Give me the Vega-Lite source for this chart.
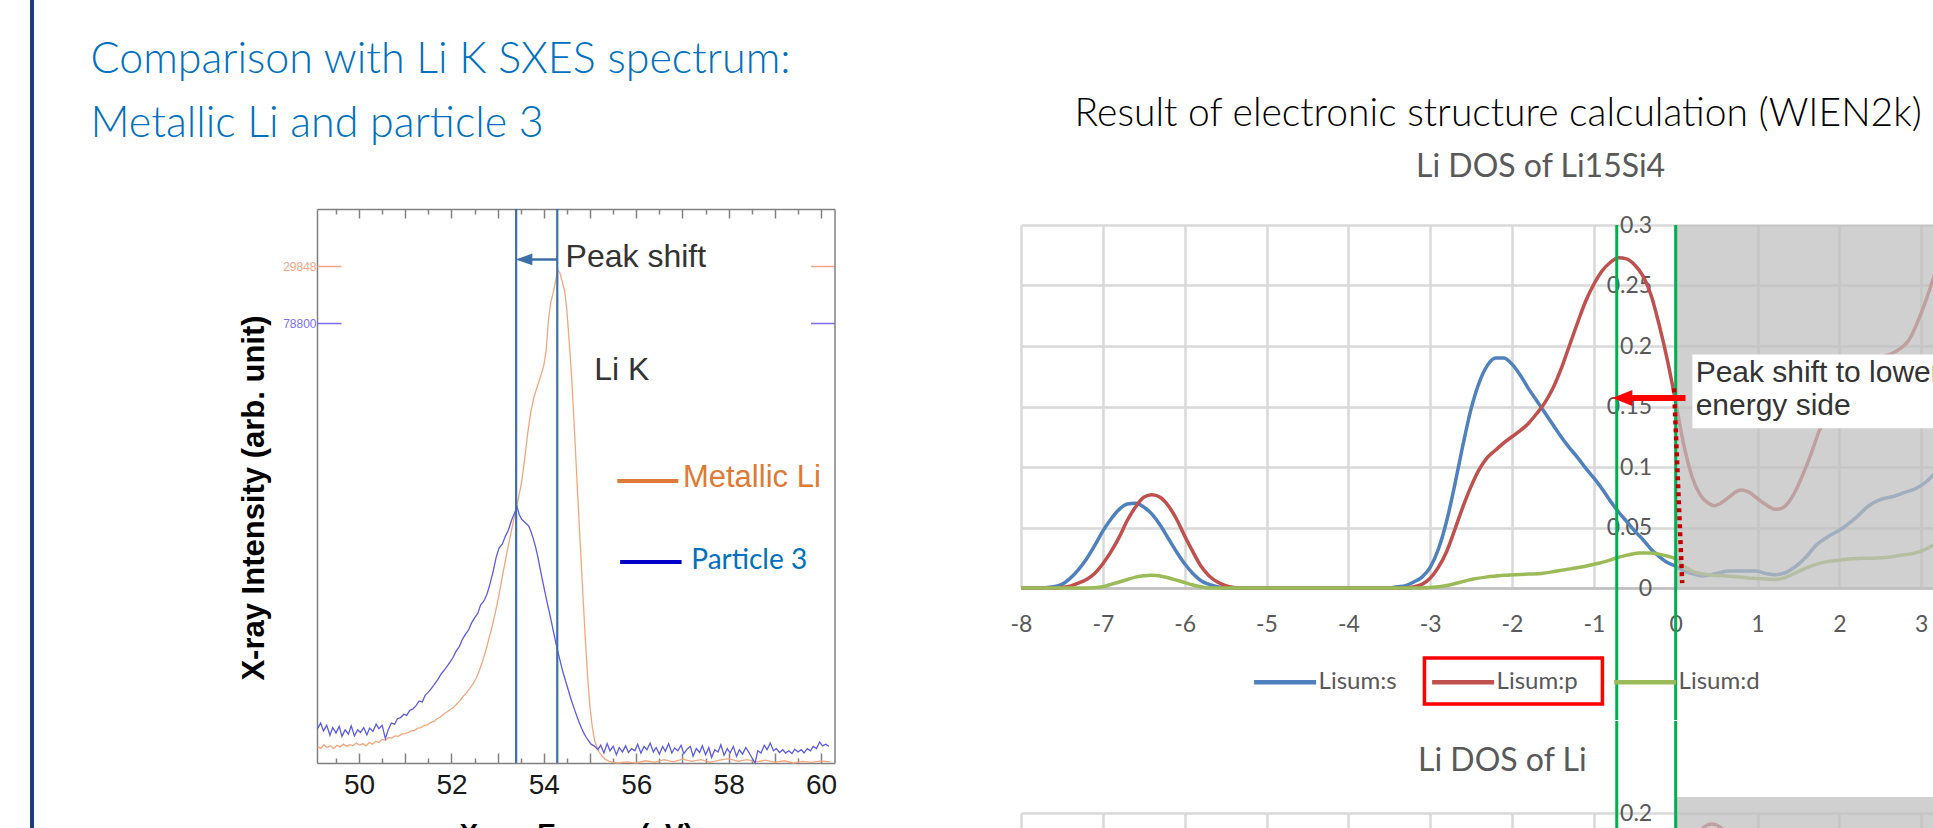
{
"$schema": "https://vega.github.io/schema/vega-lite/v6.json",
"usermeta": {"embedOptions": {"actions": false}},
"autosize": "none",
"padding": {"left": 30, "top": 0, "right": 1903, "bottom": 828},
"background": "white",
"config": {"view": {"stroke": null}},
"spacing": 55,
"resolve": {"scale": {"color": "independent"}, "legend": {"color": "independent"}},
"datasets": {
"metallic": [
{"E":49.10,"I":0.030},{"E":49.17,"I":0.026},{"E":49.24,"I":0.033},{"E":49.31,"I":0.028},{"E":49.38,"I":0.031},{"E":49.45,"I":0.026},{"E":49.52,"I":0.032},{"E":49.59,"I":0.029},{"E":49.66,"I":0.034},{"E":49.73,"I":0.030},{"E":49.80,"I":0.033},{"E":49.87,"I":0.031},{"E":49.94,"I":0.036},{"E":50.01,"I":0.032},{"E":50.08,"I":0.035},{"E":50.15,"I":0.031},{"E":50.22,"I":0.037},{"E":50.29,"I":0.034},{"E":50.36,"I":0.039},{"E":50.43,"I":0.037},{"E":50.50,"I":0.043},{"E":50.57,"I":0.041},{"E":50.64,"I":0.046},{"E":50.71,"I":0.045},{"E":50.78,"I":0.049},{"E":50.85,"I":0.048},{"E":50.92,"I":0.052},{"E":50.99,"I":0.053},{"E":51.06,"I":0.055},{"E":51.13,"I":0.058},{"E":51.20,"I":0.059},{"E":51.27,"I":0.063},{"E":51.34,"I":0.064},{"E":51.41,"I":0.068},{"E":51.48,"I":0.069},{"E":51.55,"I":0.073},{"E":51.62,"I":0.075},{"E":51.69,"I":0.080},{"E":51.76,"I":0.083},{"E":51.83,"I":0.088},{"E":51.90,"I":0.092},{"E":51.97,"I":0.096},{"E":52.04,"I":0.100},{"E":52.11,"I":0.106},{"E":52.18,"I":0.112},{"E":52.25,"I":0.120},{"E":52.32,"I":0.126},{"E":52.39,"I":0.134},{"E":52.46,"I":0.142},{"E":52.53,"I":0.152},{"E":52.60,"I":0.166},{"E":52.67,"I":0.183},{"E":52.74,"I":0.202},{"E":52.81,"I":0.224},{"E":52.88,"I":0.246},{"E":52.95,"I":0.272},{"E":53.02,"I":0.300},{"E":53.09,"I":0.332},{"E":53.16,"I":0.362},{"E":53.23,"I":0.392},{"E":53.30,"I":0.420},{"E":53.37,"I":0.448},{"E":53.44,"I":0.474},{"E":53.51,"I":0.503},{"E":53.58,"I":0.545},{"E":53.65,"I":0.595},{"E":53.72,"I":0.635},{"E":53.79,"I":0.662},{"E":53.86,"I":0.680},{"E":53.93,"I":0.698},{"E":54.00,"I":0.718},{"E":54.05,"I":0.745},{"E":54.10,"I":0.800},{"E":54.15,"I":0.832},{"E":54.20,"I":0.848},{"E":54.25,"I":0.868},{"E":54.30,"I":0.890},{"E":54.35,"I":0.884},{"E":54.40,"I":0.868},{"E":54.45,"I":0.852},{"E":54.50,"I":0.815},{"E":54.55,"I":0.758},{"E":54.60,"I":0.698},{"E":54.65,"I":0.620},{"E":54.70,"I":0.538},{"E":54.75,"I":0.455},{"E":54.80,"I":0.375},{"E":54.85,"I":0.296},{"E":54.90,"I":0.220},{"E":54.95,"I":0.152},{"E":55.00,"I":0.100},{"E":55.05,"I":0.064},{"E":55.10,"I":0.040},{"E":55.18,"I":0.022},{"E":55.26,"I":0.012},{"E":55.34,"I":0.006},{"E":55.42,"I":0.003},{"E":55.50,"I":0.001},{"E":55.60,"I":0.000},{"E":55.80,"I":0.002},{"E":56.00,"I":0.000},{"E":56.20,"I":0.004},{"E":56.40,"I":0.001},{"E":56.60,"I":0.006},{"E":56.80,"I":0.002},{"E":57.00,"I":0.007},{"E":57.20,"I":0.003},{"E":57.40,"I":0.006},{"E":57.60,"I":0.001},{"E":57.80,"I":0.005},{"E":58.00,"I":0.008},{"E":58.20,"I":0.003},{"E":58.40,"I":0.006},{"E":58.60,"I":0.002},{"E":58.80,"I":0.005},{"E":59.00,"I":0.001},{"E":59.20,"I":0.004},{"E":59.40,"I":0.000},{"E":59.60,"I":0.003},{"E":59.80,"I":0.001},{"E":60.00,"I":0.004},{"E":60.20,"I":0.002}
],
"particle": [
{"E":49.10,"I":0.062},{"E":49.17,"I":0.072},{"E":49.23,"I":0.058},{"E":49.30,"I":0.068},{"E":49.37,"I":0.050},{"E":49.43,"I":0.064},{"E":49.50,"I":0.054},{"E":49.57,"I":0.066},{"E":49.63,"I":0.048},{"E":49.70,"I":0.060},{"E":49.77,"I":0.052},{"E":49.83,"I":0.067},{"E":49.90,"I":0.049},{"E":49.97,"I":0.060},{"E":50.03,"I":0.055},{"E":50.10,"I":0.064},{"E":50.17,"I":0.051},{"E":50.23,"I":0.063},{"E":50.30,"I":0.057},{"E":50.37,"I":0.070},{"E":50.43,"I":0.062},{"E":50.50,"I":0.068},{"E":50.57,"I":0.044},{"E":50.63,"I":0.060},{"E":50.70,"I":0.072},{"E":50.77,"I":0.070},{"E":50.83,"I":0.080},{"E":50.90,"I":0.082},{"E":50.97,"I":0.088},{"E":51.03,"I":0.086},{"E":51.10,"I":0.095},{"E":51.17,"I":0.098},{"E":51.23,"I":0.103},{"E":51.30,"I":0.112},{"E":51.37,"I":0.110},{"E":51.43,"I":0.122},{"E":51.50,"I":0.128},{"E":51.57,"I":0.135},{"E":51.63,"I":0.142},{"E":51.70,"I":0.150},{"E":51.77,"I":0.160},{"E":51.83,"I":0.166},{"E":51.90,"I":0.174},{"E":51.97,"I":0.182},{"E":52.03,"I":0.190},{"E":52.10,"I":0.202},{"E":52.17,"I":0.210},{"E":52.23,"I":0.222},{"E":52.30,"I":0.232},{"E":52.37,"I":0.240},{"E":52.43,"I":0.252},{"E":52.50,"I":0.262},{"E":52.57,"I":0.270},{"E":52.63,"I":0.285},{"E":52.70,"I":0.292},{"E":52.77,"I":0.305},{"E":52.83,"I":0.322},{"E":52.90,"I":0.345},{"E":52.97,"I":0.372},{"E":53.03,"I":0.388},{"E":53.10,"I":0.395},{"E":53.17,"I":0.410},{"E":53.23,"I":0.420},{"E":53.30,"I":0.438},{"E":53.37,"I":0.452},{"E":53.42,"I":0.462},{"E":53.47,"I":0.448},{"E":53.52,"I":0.440},{"E":53.57,"I":0.436},{"E":53.62,"I":0.432},{"E":53.67,"I":0.428},{"E":53.72,"I":0.418},{"E":53.77,"I":0.405},{"E":53.82,"I":0.390},{"E":53.87,"I":0.372},{"E":53.92,"I":0.350},{"E":53.97,"I":0.330},{"E":54.02,"I":0.310},{"E":54.07,"I":0.290},{"E":54.12,"I":0.272},{"E":54.17,"I":0.252},{"E":54.22,"I":0.232},{"E":54.27,"I":0.213},{"E":54.32,"I":0.195},{"E":54.37,"I":0.178},{"E":54.42,"I":0.162},{"E":54.47,"I":0.148},{"E":54.52,"I":0.134},{"E":54.57,"I":0.120},{"E":54.62,"I":0.107},{"E":54.67,"I":0.095},{"E":54.72,"I":0.083},{"E":54.77,"I":0.072},{"E":54.82,"I":0.062},{"E":54.87,"I":0.053},{"E":54.92,"I":0.046},{"E":54.97,"I":0.040},{"E":55.02,"I":0.034},{"E":55.10,"I":0.030},{"E":55.17,"I":0.024},{"E":55.23,"I":0.032},{"E":55.30,"I":0.018},{"E":55.37,"I":0.035},{"E":55.43,"I":0.022},{"E":55.50,"I":0.030},{"E":55.57,"I":0.015},{"E":55.63,"I":0.028},{"E":55.70,"I":0.020},{"E":55.77,"I":0.031},{"E":55.83,"I":0.019},{"E":55.90,"I":0.026},{"E":55.97,"I":0.022},{"E":56.03,"I":0.034},{"E":56.10,"I":0.018},{"E":56.17,"I":0.030},{"E":56.23,"I":0.024},{"E":56.30,"I":0.036},{"E":56.37,"I":0.020},{"E":56.43,"I":0.028},{"E":56.50,"I":0.016},{"E":56.57,"I":0.030},{"E":56.63,"I":0.021},{"E":56.70,"I":0.035},{"E":56.77,"I":0.018},{"E":56.83,"I":0.027},{"E":56.90,"I":0.022},{"E":56.97,"I":0.032},{"E":57.03,"I":0.017},{"E":57.10,"I":0.025},{"E":57.17,"I":0.030},{"E":57.23,"I":0.012},{"E":57.30,"I":0.026},{"E":57.37,"I":0.019},{"E":57.43,"I":0.031},{"E":57.50,"I":0.015},{"E":57.57,"I":0.028},{"E":57.63,"I":0.010},{"E":57.70,"I":0.024},{"E":57.77,"I":0.020},{"E":57.83,"I":0.033},{"E":57.90,"I":0.014},{"E":57.97,"I":0.026},{"E":58.03,"I":0.018},{"E":58.10,"I":0.030},{"E":58.17,"I":0.012},{"E":58.23,"I":0.024},{"E":58.30,"I":0.016},{"E":58.37,"I":0.028},{"E":58.43,"I":0.020},{"E":58.50,"I":0.010},{"E":58.57,"I":0.000},{"E":58.63,"I":0.022},{"E":58.70,"I":0.018},{"E":58.77,"I":0.032},{"E":58.83,"I":0.024},{"E":58.90,"I":0.036},{"E":58.97,"I":0.022},{"E":59.03,"I":0.026},{"E":59.10,"I":0.019},{"E":59.17,"I":0.024},{"E":59.23,"I":0.018},{"E":59.30,"I":0.022},{"E":59.37,"I":0.017},{"E":59.43,"I":0.025},{"E":59.50,"I":0.020},{"E":59.57,"I":0.024},{"E":59.63,"I":0.018},{"E":59.70,"I":0.026},{"E":59.77,"I":0.022},{"E":59.83,"I":0.030},{"E":59.90,"I":0.026},{"E":59.97,"I":0.038},{"E":60.03,"I":0.031},{"E":60.10,"I":0.034},{"E":60.17,"I":0.030}
],
"dos1": [
{"x":-8,"y":0,"k":"Lisum:s"},{"x":-7.8,"y":0,"k":"Lisum:s"},{"x":-7.6,"y":0.001,"k":"Lisum:s"},{"x":-7.5,"y":0.003,"k":"Lisum:s"},{"x":-7.4,"y":0.008,"k":"Lisum:s"},{"x":-7.3,"y":0.015,"k":"Lisum:s"},{"x":-7.2,"y":0.024,"k":"Lisum:s"},{"x":-7.1,"y":0.035,"k":"Lisum:s"},{"x":-7.0,"y":0.047,"k":"Lisum:s"},{"x":-6.9,"y":0.057,"k":"Lisum:s"},{"x":-6.8,"y":0.065,"k":"Lisum:s"},{"x":-6.7,"y":0.0695,"k":"Lisum:s"},{"x":-6.6,"y":0.070,"k":"Lisum:s"},{"x":-6.5,"y":0.067,"k":"Lisum:s"},{"x":-6.4,"y":0.061,"k":"Lisum:s"},{"x":-6.3,"y":0.052,"k":"Lisum:s"},{"x":-6.2,"y":0.041,"k":"Lisum:s"},{"x":-6.1,"y":0.030,"k":"Lisum:s"},{"x":-6.0,"y":0.020,"k":"Lisum:s"},{"x":-5.9,"y":0.012,"k":"Lisum:s"},{"x":-5.8,"y":0.006,"k":"Lisum:s"},{"x":-5.7,"y":0.003,"k":"Lisum:s"},{"x":-5.6,"y":0.001,"k":"Lisum:s"},{"x":-5.5,"y":0,"k":"Lisum:s"},{"x":-4.5,"y":0,"k":"Lisum:s"},{"x":-3.5,"y":0,"k":"Lisum:s"},{"x":-3.4,"y":0.001,"k":"Lisum:s"},{"x":-3.3,"y":0.002,"k":"Lisum:s"},{"x":-3.2,"y":0.005,"k":"Lisum:s"},{"x":-3.1,"y":0.009,"k":"Lisum:s"},{"x":-3.0,"y":0.017,"k":"Lisum:s"},{"x":-2.9,"y":0.032,"k":"Lisum:s"},{"x":-2.8,"y":0.055,"k":"Lisum:s"},{"x":-2.7,"y":0.085,"k":"Lisum:s"},{"x":-2.6,"y":0.118,"k":"Lisum:s"},{"x":-2.5,"y":0.148,"k":"Lisum:s"},{"x":-2.4,"y":0.170,"k":"Lisum:s"},{"x":-2.3,"y":0.184,"k":"Lisum:s"},{"x":-2.2,"y":0.190,"k":"Lisum:s"},{"x":-2.1,"y":0.190,"k":"Lisum:s"},{"x":-2.0,"y":0.185,"k":"Lisum:s"},{"x":-1.9,"y":0.176,"k":"Lisum:s"},{"x":-1.8,"y":0.165,"k":"Lisum:s"},{"x":-1.7,"y":0.155,"k":"Lisum:s"},{"x":-1.6,"y":0.145,"k":"Lisum:s"},{"x":-1.5,"y":0.135,"k":"Lisum:s"},{"x":-1.4,"y":0.125,"k":"Lisum:s"},{"x":-1.3,"y":0.116,"k":"Lisum:s"},{"x":-1.2,"y":0.108,"k":"Lisum:s"},{"x":-1.1,"y":0.099,"k":"Lisum:s"},{"x":-1.0,"y":0.091,"k":"Lisum:s"},{"x":-0.9,"y":0.082,"k":"Lisum:s"},{"x":-0.8,"y":0.072,"k":"Lisum:s"},{"x":-0.7,"y":0.063,"k":"Lisum:s"},{"x":-0.6,"y":0.055,"k":"Lisum:s"},{"x":-0.5,"y":0.047,"k":"Lisum:s"},{"x":-0.4,"y":0.040,"k":"Lisum:s"},{"x":-0.3,"y":0.032,"k":"Lisum:s"},{"x":-0.2,"y":0.026,"k":"Lisum:s"},{"x":-0.1,"y":0.021,"k":"Lisum:s"},{"x":0,"y":0.018,"k":"Lisum:s"},{"x":0.1,"y":0.014,"k":"Lisum:s"},{"x":0.2,"y":0.012,"k":"Lisum:s"},{"x":0.33,"y":0.010,"k":"Lisum:s"},{"x":0.5,"y":0.012,"k":"Lisum:s"},{"x":0.65,"y":0.014,"k":"Lisum:s"},{"x":0.8,"y":0.014,"k":"Lisum:s"},{"x":0.98,"y":0.014,"k":"Lisum:s"},{"x":1.1,"y":0.012,"k":"Lisum:s"},{"x":1.22,"y":0.011,"k":"Lisum:s"},{"x":1.35,"y":0.013,"k":"Lisum:s"},{"x":1.45,"y":0.017,"k":"Lisum:s"},{"x":1.6,"y":0.026,"k":"Lisum:s"},{"x":1.71,"y":0.035,"k":"Lisum:s"},{"x":1.85,"y":0.042,"k":"Lisum:s"},{"x":2.03,"y":0.049,"k":"Lisum:s"},{"x":2.2,"y":0.058,"k":"Lisum:s"},{"x":2.36,"y":0.068,"k":"Lisum:s"},{"x":2.5,"y":0.073,"k":"Lisum:s"},{"x":2.68,"y":0.076,"k":"Lisum:s"},{"x":2.8,"y":0.079,"k":"Lisum:s"},{"x":2.93,"y":0.082,"k":"Lisum:s"},{"x":3.05,"y":0.087,"k":"Lisum:s"},{"x":3.17,"y":0.095,"k":"Lisum:s"},{"x":3.3,"y":0.105,"k":"Lisum:s"},{"x":3.5,"y":0.120,"k":"Lisum:s"},{"x":3.7,"y":0.130,"k":"Lisum:s"},{"x":4.0,"y":0.140,"k":"Lisum:s"},
{"x":-8,"y":0,"k":"Lisum:p"},{"x":-7.6,"y":0,"k":"Lisum:p"},{"x":-7.5,"y":0.0005,"k":"Lisum:p"},{"x":-7.4,"y":0.0015,"k":"Lisum:p"},{"x":-7.3,"y":0.004,"k":"Lisum:p"},{"x":-7.2,"y":0.007,"k":"Lisum:p"},{"x":-7.1,"y":0.012,"k":"Lisum:p"},{"x":-7.0,"y":0.020,"k":"Lisum:p"},{"x":-6.9,"y":0.030,"k":"Lisum:p"},{"x":-6.8,"y":0.042,"k":"Lisum:p"},{"x":-6.7,"y":0.056,"k":"Lisum:p"},{"x":-6.6,"y":0.067,"k":"Lisum:p"},{"x":-6.5,"y":0.075,"k":"Lisum:p"},{"x":-6.4,"y":0.077,"k":"Lisum:p"},{"x":-6.3,"y":0.075,"k":"Lisum:p"},{"x":-6.2,"y":0.068,"k":"Lisum:p"},{"x":-6.1,"y":0.057,"k":"Lisum:p"},{"x":-6.0,"y":0.043,"k":"Lisum:p"},{"x":-5.9,"y":0.030,"k":"Lisum:p"},{"x":-5.8,"y":0.018,"k":"Lisum:p"},{"x":-5.7,"y":0.010,"k":"Lisum:p"},{"x":-5.6,"y":0.005,"k":"Lisum:p"},{"x":-5.5,"y":0.002,"k":"Lisum:p"},{"x":-5.4,"y":0.0005,"k":"Lisum:p"},{"x":-5.3,"y":0,"k":"Lisum:p"},{"x":-4.3,"y":0,"k":"Lisum:p"},{"x":-3.3,"y":0,"k":"Lisum:p"},{"x":-3.2,"y":0.001,"k":"Lisum:p"},{"x":-3.1,"y":0.003,"k":"Lisum:p"},{"x":-3.0,"y":0.008,"k":"Lisum:p"},{"x":-2.9,"y":0.017,"k":"Lisum:p"},{"x":-2.8,"y":0.030,"k":"Lisum:p"},{"x":-2.7,"y":0.048,"k":"Lisum:p"},{"x":-2.6,"y":0.067,"k":"Lisum:p"},{"x":-2.5,"y":0.084,"k":"Lisum:p"},{"x":-2.4,"y":0.098,"k":"Lisum:p"},{"x":-2.3,"y":0.108,"k":"Lisum:p"},{"x":-2.2,"y":0.114,"k":"Lisum:p"},{"x":-2.1,"y":0.120,"k":"Lisum:p"},{"x":-2.0,"y":0.125,"k":"Lisum:p"},{"x":-1.9,"y":0.130,"k":"Lisum:p"},{"x":-1.8,"y":0.136,"k":"Lisum:p"},{"x":-1.7,"y":0.144,"k":"Lisum:p"},{"x":-1.6,"y":0.153,"k":"Lisum:p"},{"x":-1.5,"y":0.165,"k":"Lisum:p"},{"x":-1.4,"y":0.181,"k":"Lisum:p"},{"x":-1.3,"y":0.200,"k":"Lisum:p"},{"x":-1.2,"y":0.219,"k":"Lisum:p"},{"x":-1.1,"y":0.237,"k":"Lisum:p"},{"x":-1.0,"y":0.251,"k":"Lisum:p"},{"x":-0.9,"y":0.262,"k":"Lisum:p"},{"x":-0.8,"y":0.269,"k":"Lisum:p"},{"x":-0.7,"y":0.273,"k":"Lisum:p"},{"x":-0.6,"y":0.272,"k":"Lisum:p"},{"x":-0.5,"y":0.267,"k":"Lisum:p"},{"x":-0.4,"y":0.258,"k":"Lisum:p"},{"x":-0.3,"y":0.242,"k":"Lisum:p"},{"x":-0.2,"y":0.217,"k":"Lisum:p"},{"x":-0.1,"y":0.188,"k":"Lisum:p"},{"x":0,"y":0.154,"k":"Lisum:p"},{"x":0.1,"y":0.118,"k":"Lisum:p"},{"x":0.2,"y":0.092,"k":"Lisum:p"},{"x":0.3,"y":0.077,"k":"Lisum:p"},{"x":0.4,"y":0.070,"k":"Lisum:p"},{"x":0.47,"y":0.068,"k":"Lisum:p"},{"x":0.55,"y":0.070,"k":"Lisum:p"},{"x":0.65,"y":0.075,"k":"Lisum:p"},{"x":0.75,"y":0.080,"k":"Lisum:p"},{"x":0.81,"y":0.081,"k":"Lisum:p"},{"x":0.9,"y":0.079,"k":"Lisum:p"},{"x":0.98,"y":0.075,"k":"Lisum:p"},{"x":1.1,"y":0.069,"k":"Lisum:p"},{"x":1.22,"y":0.065,"k":"Lisum:p"},{"x":1.3,"y":0.066,"k":"Lisum:p"},{"x":1.38,"y":0.071,"k":"Lisum:p"},{"x":1.47,"y":0.081,"k":"Lisum:p"},{"x":1.55,"y":0.093,"k":"Lisum:p"},{"x":1.65,"y":0.110,"k":"Lisum:p"},{"x":1.75,"y":0.129,"k":"Lisum:p"},{"x":1.85,"y":0.144,"k":"Lisum:p"},{"x":1.96,"y":0.157,"k":"Lisum:p"},{"x":2.1,"y":0.170,"k":"Lisum:p"},{"x":2.3,"y":0.182,"k":"Lisum:p"},{"x":2.5,"y":0.190,"k":"Lisum:p"},{"x":2.7,"y":0.196,"k":"Lisum:p"},{"x":2.85,"y":0.205,"k":"Lisum:p"},{"x":2.97,"y":0.222,"k":"Lisum:p"},{"x":3.07,"y":0.240,"k":"Lisum:p"},{"x":3.17,"y":0.260,"k":"Lisum:p"},{"x":3.3,"y":0.280,"k":"Lisum:p"},{"x":3.5,"y":0.290,"k":"Lisum:p"},{"x":3.7,"y":0.280,"k":"Lisum:p"},{"x":4.0,"y":0.250,"k":"Lisum:p"},
{"x":-8,"y":0,"k":"Lisum:d"},{"x":-7.2,"y":0,"k":"Lisum:d"},{"x":-7.0,"y":0.001,"k":"Lisum:d"},{"x":-6.9,"y":0.003,"k":"Lisum:d"},{"x":-6.8,"y":0.005,"k":"Lisum:d"},{"x":-6.7,"y":0.007,"k":"Lisum:d"},{"x":-6.6,"y":0.009,"k":"Lisum:d"},{"x":-6.5,"y":0.0102,"k":"Lisum:d"},{"x":-6.4,"y":0.0105,"k":"Lisum:d"},{"x":-6.3,"y":0.010,"k":"Lisum:d"},{"x":-6.2,"y":0.0085,"k":"Lisum:d"},{"x":-6.1,"y":0.0065,"k":"Lisum:d"},{"x":-6.0,"y":0.0045,"k":"Lisum:d"},{"x":-5.9,"y":0.0025,"k":"Lisum:d"},{"x":-5.8,"y":0.001,"k":"Lisum:d"},{"x":-5.7,"y":0,"k":"Lisum:d"},{"x":-4.5,"y":0,"k":"Lisum:d"},{"x":-3.2,"y":0,"k":"Lisum:d"},{"x":-3.0,"y":0.0005,"k":"Lisum:d"},{"x":-2.9,"y":0.001,"k":"Lisum:d"},{"x":-2.8,"y":0.002,"k":"Lisum:d"},{"x":-2.62,"y":0.005,"k":"Lisum:d"},{"x":-2.5,"y":0.007,"k":"Lisum:d"},{"x":-2.32,"y":0.009,"k":"Lisum:d"},{"x":-2.1,"y":0.0105,"k":"Lisum:d"},{"x":-1.8,"y":0.0115,"k":"Lisum:d"},{"x":-1.64,"y":0.012,"k":"Lisum:d"},{"x":-1.45,"y":0.014,"k":"Lisum:d"},{"x":-1.27,"y":0.016,"k":"Lisum:d"},{"x":-1.1,"y":0.018,"k":"Lisum:d"},{"x":-0.97,"y":0.020,"k":"Lisum:d"},{"x":-0.85,"y":0.022,"k":"Lisum:d"},{"x":-0.72,"y":0.025,"k":"Lisum:d"},{"x":-0.6,"y":0.027,"k":"Lisum:d"},{"x":-0.45,"y":0.029,"k":"Lisum:d"},{"x":-0.3,"y":0.029,"k":"Lisum:d"},{"x":-0.14,"y":0.027,"k":"Lisum:d"},{"x":0,"y":0.024,"k":"Lisum:d"},{"x":0.1,"y":0.018,"k":"Lisum:d"},{"x":0.2,"y":0.014,"k":"Lisum:d"},{"x":0.4,"y":0.011,"k":"Lisum:d"},{"x":0.61,"y":0.010,"k":"Lisum:d"},{"x":0.8,"y":0.009,"k":"Lisum:d"},{"x":0.94,"y":0.008,"k":"Lisum:d"},{"x":1.1,"y":0.0075,"k":"Lisum:d"},{"x":1.22,"y":0.007,"k":"Lisum:d"},{"x":1.35,"y":0.009,"k":"Lisum:d"},{"x":1.51,"y":0.014,"k":"Lisum:d"},{"x":1.65,"y":0.018,"k":"Lisum:d"},{"x":1.79,"y":0.021,"k":"Lisum:d"},{"x":2.0,"y":0.023,"k":"Lisum:d"},{"x":2.12,"y":0.024,"k":"Lisum:d"},{"x":2.3,"y":0.0245,"k":"Lisum:d"},{"x":2.53,"y":0.025,"k":"Lisum:d"},{"x":2.75,"y":0.027,"k":"Lisum:d"},{"x":2.93,"y":0.029,"k":"Lisum:d"},{"x":3.05,"y":0.032,"k":"Lisum:d"},{"x":3.17,"y":0.036,"k":"Lisum:d"},{"x":3.4,"y":0.040,"k":"Lisum:d"},{"x":3.7,"y":0.045,"k":"Lisum:d"},{"x":4.0,"y":0.050,"k":"Lisum:d"}
]
},
"hconcat": [
{
"width": 4, "height": 828,
"view": {"fill": "#1F3C88", "stroke": null},
"data": {"values": [{}]},
"mark": {"type": "point", "opacity": 0}
},
{
"spacing": 0,
"vconcat": [
{
"width": 637.5, "height": 39,
"data": {"values": [{}]},
"mark": {"type": "point", "opacity": 0}
},
{
"width": 517.5, "height": 554,
"title": {"text": ["Comparison with Li K SXES spectrum:", "Metallic Li and particle 3"], "anchor": "start", "frame": "group", "dx": -226.5, "offset": 61.9, "font": "Lato", "fontSize": 43, "fontWeight": 300, "color": "#0070C0", "lineHeight": 64},
"resolve": {"axis": {"x": "independent", "y": "independent"}},
"layer": [
{
"data": {"name": "metallic"},
"mark": {"type": "line", "color": "#F3A77E", "strokeWidth": 1.3},
"encoding": {
"x": {"field": "E", "type": "quantitative", "scale": {"domain": [49.09, 60.29], "nice": false, "zero": false},
 "axis": {"orient": "bottom", "values": [50, 52, 54, 56, 58, 60], "labelFont": "Liberation Sans", "labelFontSize": 28, "labelColor": "#1a1a1a", "labelPadding": 8, "labelFlush": false, "ticks": false, "domain": true, "domainColor": "#808080", "domainWidth": 1.5, "grid": false,
  "title": "X-ray Energy (eV)", "titleFont": "Liberation Sans", "titleFontSize": 28, "titleFontWeight": "bold", "titleColor": "#000000", "titlePadding": 21}},
"y": {"field": "I", "type": "quantitative", "scale": {"domain": [0, 1], "nice": false, "zero": false},
 "axis": {"orient": "left", "values": [0.794, 0.897], "labelExpr": "datum.value > 0.85 ? '29848' : '78800'", "labelColor": {"condition": {"test": "datum.value > 0.85", "value": "#F4A582"}, "value": "#7B6FE8"}, "labelFont": "Liberation Sans", "labelFontSize": 12, "labelPadding": 1, "ticks": false, "domain": true, "domainColor": "#808080", "domainWidth": 1.5, "grid": false,
  "title": "X-ray Intensity (arb. unit)", "titleFont": "Liberation Sans", "titleFontSize": 31, "titleFontWeight": "bold", "titleColor": "#000000", "titleX": -46.5, "titleY": 288.5}}
}
},
{
"data": {"name": "particle"},
"mark": {"type": "line", "color": "#5B5BE3", "strokeWidth": 1.3},
"encoding": {
"x": {"field": "E", "type": "quantitative", "scale": {"domain": [49.09, 60.29], "nice": false, "zero": false},
 "axis": {"orient": "top", "values": [50, 51, 52, 53, 54, 55, 56, 57, 58, 59, 60], "labels": false, "ticks": true, "tickSize": -9, "tickColor": "#808080", "tickWidth": 1.5, "domain": true, "domainColor": "#808080", "domainWidth": 1.5, "grid": false, "title": null}},
"y": {"field": "I", "type": "quantitative", "scale": {"domain": [0, 1], "nice": false, "zero": false},
 "axis": {"orient": "left", "values": [0.794, 0.897], "labels": false, "ticks": true, "tickSize": -24, "tickWidth": 1.5, "tickColor": {"condition": {"test": "datum.value > 0.85", "value": "#F4A582"}, "value": "#7B6FE8"}, "domain": false, "grid": false, "title": null}}
}
},
{
"data": {"values": [{"E": 53.4}, {"E": 54.29}]},
"mark": {"type": "rule", "color": "#3D6FA9", "strokeWidth": 2.2},
"encoding": {
"x": {"field": "E", "type": "quantitative", "scale": {"domain": [49.09, 60.29], "nice": false, "zero": false},
 "axis": {"orient": "bottom", "values": [50, 51, 52, 53, 54, 55, 56, 57, 58, 59, 60], "labels": false, "ticks": true, "tickSize": -10, "tickColor": "#808080", "tickWidth": 1.5, "domain": false, "grid": false, "title": null}}
}
},
{
"data": {"values": [{"E": 53.57, "E2": 54.29, "I": 0.909}]},
"mark": {"type": "rule", "color": "#3D6FA9", "strokeWidth": 2.5},
"encoding": {
"x": {"field": "E", "type": "quantitative", "scale": {"domain": [49.09, 60.29], "nice": false, "zero": false},
 "axis": {"orient": "bottom", "values": [49.5, 50.5, 51.5, 52.5, 53.5, 54.5, 55.5, 56.5, 57.5, 58.5, 59.5], "labels": false, "ticks": true, "tickSize": -5, "tickColor": "#808080", "tickWidth": 1.5, "domain": false, "grid": false, "title": null}},
"x2": {"field": "E2"},
"y": {"field": "I", "type": "quantitative", "scale": {"domain": [0, 1], "nice": false, "zero": false},
 "axis": {"orient": "right", "values": [0.794, 0.897], "labels": false, "ticks": true, "tickSize": -24, "tickWidth": 1.5, "tickColor": {"condition": {"test": "datum.value > 0.85", "value": "#F4A582"}, "value": "#7B6FE8"}, "domain": true, "domainColor": "#808080", "domainWidth": 1.5, "grid": false, "title": null}}
}
},
{
"data": {"values": [{"E": 53.57, "I": 0.909}]},
"mark": {"type": "point", "shape": "M-1,0L1,-0.7L1,0.7Z", "size": 276, "filled": true, "color": "#3D6FA9", "opacity": 1},
"encoding": {
"x": {"field": "E", "type": "quantitative", "scale": {"domain": [49.09, 60.29], "nice": false, "zero": false},
 "axis": {"orient": "top", "values": [49.5, 50.5, 51.5, 52.5, 53.5, 54.5, 55.5, 56.5, 57.5, 58.5, 59.5], "labels": false, "ticks": true, "tickSize": -5, "tickColor": "#808080", "tickWidth": 1.5, "domain": false, "grid": false, "title": null}},
"y": {"field": "I", "type": "quantitative", "scale": {"domain": [0, 1], "nice": false, "zero": false}, "axis": null}
}
},
{
"data": {"values": [{"E": 54.47, "I": 0.896, "t": "Peak shift"}, {"E": 55.09, "I": 0.691, "t": "Li K"}]},
"mark": {"type": "text", "font": "Liberation Sans", "fontSize": 32, "color": "#333333", "align": "left", "baseline": "alphabetic"},
"encoding": {
"x": {"field": "E", "type": "quantitative", "scale": {"domain": [49.09, 60.29], "nice": false, "zero": false}, "axis": null},
"y": {"field": "I", "type": "quantitative", "scale": {"domain": [0, 1], "nice": false, "zero": false}, "axis": null},
"text": {"field": "t"}
}
},
{
"data": {"values": [{"E": 55.59, "E2": 56.91, "I": 0.509}]},
"mark": {"type": "rule", "strokeWidth": 4, "color": "#DD7A35"},
"encoding": {
"x": {"field": "E", "type": "quantitative", "scale": {"domain": [49.09, 60.29], "nice": false, "zero": false}, "axis": null},
"x2": {"field": "E2"},
"y": {"field": "I", "type": "quantitative", "scale": {"domain": [0, 1], "nice": false, "zero": false}, "axis": null}
}
},
{
"data": {"values": [{"E": 55.65, "E2": 56.98, "I": 0.363}]},
"mark": {"type": "rule", "strokeWidth": 4, "color": "#0000C8"},
"encoding": {
"x": {"field": "E", "type": "quantitative", "scale": {"domain": [49.09, 60.29], "nice": false, "zero": false}, "axis": null},
"x2": {"field": "E2"},
"y": {"field": "I", "type": "quantitative", "scale": {"domain": [0, 1], "nice": false, "zero": false}, "axis": null}
}
},
{
"data": {"values": [{"E": 57.01, "I": 0.499, "t": "Metallic Li"}]},
"mark": {"type": "text", "font": "Liberation Sans", "fontSize": 31, "color": "#DD7A35", "align": "left", "baseline": "alphabetic"},
"encoding": {
"x": {"field": "E", "type": "quantitative", "scale": {"domain": [49.09, 60.29], "nice": false, "zero": false}, "axis": null},
"y": {"field": "I", "type": "quantitative", "scale": {"domain": [0, 1], "nice": false, "zero": false}, "axis": null},
"text": {"field": "t"}
}
},
{
"data": {"values": [{"E": 57.19, "I": 0.351, "t": "Particle 3"}]},
"mark": {"type": "text", "font": "Lato", "fontSize": 28, "color": "#0070C0", "align": "left", "baseline": "alphabetic"},
"encoding": {
"x": {"field": "E", "type": "quantitative", "scale": {"domain": [49.09, 60.29], "nice": false, "zero": false}, "axis": null},
"y": {"field": "I", "type": "quantitative", "scale": {"domain": [0, 1], "nice": false, "zero": false}, "axis": null},
"text": {"field": "t"}
}
}
]
}
]
},
{
"spacing": 17,
"vconcat": [
{
"width": 10, "height": 60,
"title": {"text": "Result of electronic structure calculation (WIEN2k)", "orient": "bottom", "anchor": "start", "frame": "group", "dx": 53.6, "offset": 35, "font": "Lato", "fontSize": 39, "fontWeight": 300, "color": "#000000"},
"data": {"values": [{}]},
"mark": {"type": "point", "opacity": 0}
},
{
"spacing": 0,
"vconcat": [
{
"width": 982, "height": 363,
"title": {"text": "Li DOS of Li15Si4", "anchor": "middle", "frame": "group", "dx": 28.6, "offset": 30, "font": "Lato", "fontSize": 32, "fontWeight": 400, "color": "#595959"},
"resolve": {"axis": {"x": "independent", "y": "independent"}},
"layer": [
{
"data": {"name": "dos1"},
"mark": {"type": "line", "strokeWidth": 3.5, "interpolate": "monotone"},
"encoding": {
"x": {"field": "x", "type": "quantitative", "scale": {"domain": [-8, 4], "nice": false, "zero": false, "padding": 0},
 "axis": {"orient": "bottom", "values": [-8, -7, -6, -5, -4, -3, -2, -1, 0, 1, 2, 3], "labelExpr": "'' + datum.value", "labelFont": "Lato", "labelFontSize": 23, "labelColor": "#595959", "labelPadding": 25, "labelFlush": false, "labelOverlap": false, "ticks": false, "domain": true, "domainColor": "#BFBFBF", "domainWidth": 2.5, "grid": true, "gridColor": "#D9D9D9", "gridWidth": 2.5, "title": null}},
"y": {"field": "y", "type": "quantitative", "scale": {"domain": [0, 0.3], "nice": false, "zero": false, "padding": 0},
 "axis": {"orient": "left", "values": [0, 0.05, 0.1, 0.15, 0.2, 0.25, 0.3], "format": "~g", "labelFont": "Lato", "labelFontSize": 23, "labelColor": "#595959", "labelPadding": 24, "labelFlush": false, "labelOverlap": false, "ticks": false, "domain": false, "grid": true, "gridColor": "#D9D9D9", "gridWidth": 2.5, "offset": -654.67, "title": null}},
"color": {"field": "k", "type": "nominal", "scale": {"domain": ["Lisum:s", "Lisum:p", "Lisum:d"], "range": ["#4F81BD", "#C0504D", "#9BBB59"]},
 "legend": {"orient": "none", "legendX": 230.6, "legendY": 648.5, "direction": "horizontal", "title": null, "symbolType": "stroke", "symbolSize": 3844, "symbolStrokeWidth": 4.5, "labelFont": "Lato", "labelFontSize": 24, "labelColor": "#595959", "labelOffset": 0, "columnPadding": 26, "padding": 0}}
}
},
{
"data": {"values": [{"x": 0, "x2": 4, "y": 0, "y2": 0.3}]},
"mark": {"type": "rect", "color": "#BFBFBF", "opacity": 0.73},
"encoding": {
"x": {"field": "x", "type": "quantitative", "scale": {"domain": [-8, 4], "nice": false, "zero": false, "padding": 0}, "axis": null},
"x2": {"field": "x2"},
"y": {"field": "y", "type": "quantitative", "scale": {"domain": [0, 0.3], "nice": false, "zero": false, "padding": 0}, "axis": null},
"y2": {"field": "y2"}
}
},
{
"data": {"values": [{"x": -0.72}, {"x": 0}]},
"mark": {"type": "bar", "color": "#00B050", "width": 3},
"encoding": {
"x": {"field": "x", "type": "quantitative", "scale": {"domain": [-8, 4], "nice": false, "zero": false, "padding": 0}, "axis": null},
"y": {"datum": 0.3, "type": "quantitative", "scale": {"domain": [0, 0.3], "nice": false, "zero": false, "padding": 0}, "axis": null},
"y2": {"datum": -0.10909}
}
},
{
"data": {"values": [{"x": -0.02, "y": 0.165, "x2": 0.08, "y2": 0.004}]},
"mark": {"type": "rule", "color": "#C00000", "strokeWidth": 4.5, "strokeDash": [4, 4]},
"encoding": {
"x": {"field": "x", "type": "quantitative", "scale": {"domain": [-8, 4], "nice": false, "zero": false, "padding": 0}, "axis": null},
"x2": {"field": "x2"},
"y": {"field": "y", "type": "quantitative", "scale": {"domain": [0, 0.3], "nice": false, "zero": false, "padding": 0}, "axis": null},
"y2": {"field": "y2"}
}
},
{
"data": {"values": [{"x": 0.204, "x2": 4, "y": 0.132, "y2": 0.193}]},
"mark": {"type": "rect", "color": "#FFFFFF"},
"encoding": {
"x": {"field": "x", "type": "quantitative", "scale": {"domain": [-8, 4], "nice": false, "zero": false, "padding": 0}, "axis": null},
"x2": {"field": "x2"},
"y": {"field": "y", "type": "quantitative", "scale": {"domain": [0, 0.3], "nice": false, "zero": false, "padding": 0}, "axis": null},
"y2": {"field": "y2"}
}
},
{
"data": {"values": [{"x": 0.244, "y": 0.1897, "t": "Peak shift to lower\nenergy side"}]},
"mark": {"type": "text", "font": "Liberation Sans", "fontSize": 30, "color": "#333333", "align": "left", "baseline": "top", "lineBreak": "\n", "lineHeight": 33},
"encoding": {
"x": {"field": "x", "type": "quantitative", "scale": {"domain": [-8, 4], "nice": false, "zero": false, "padding": 0}, "axis": null},
"y": {"field": "y", "type": "quantitative", "scale": {"domain": [0, 0.3], "nice": false, "zero": false, "padding": 0}, "axis": null},
"text": {"field": "t"}
}
},
{
"data": {"values": [{"x": -0.651, "x2": 0.12, "y": 0.157}]},
"mark": {"type": "rule", "color": "#FF0000", "strokeWidth": 6},
"encoding": {
"x": {"field": "x", "type": "quantitative", "scale": {"domain": [-8, 4], "nice": false, "zero": false, "padding": 0}, "axis": null},
"x2": {"field": "x2"},
"y": {"field": "y", "type": "quantitative", "scale": {"domain": [0, 0.3], "nice": false, "zero": false, "padding": 0}, "axis": null}
}
},
{
"data": {"values": [{"x": -0.651, "y": 0.157}]},
"mark": {"type": "point", "shape": "M-1,0L1,-0.8L1,0.8Z", "size": 400, "filled": true, "color": "#FF0000", "opacity": 1},
"encoding": {
"x": {"field": "x", "type": "quantitative", "scale": {"domain": [-8, 4], "nice": false, "zero": false, "padding": 0}, "axis": null},
"y": {"field": "y", "type": "quantitative", "scale": {"domain": [0, 0.3], "nice": false, "zero": false, "padding": 0}, "axis": null}
}
},
{
"data": {"values": [{"x": -3.07, "x2": -0.895, "y": -0.0579, "y2": -0.0959}]},
"mark": {"type": "rect", "fillOpacity": 0, "stroke": "#FF0000", "strokeWidth": 3.5},
"encoding": {
"x": {"field": "x", "type": "quantitative", "scale": {"domain": [-8, 4], "nice": false, "zero": false, "padding": 0}, "axis": null},
"x2": {"field": "x2"},
"y": {"field": "y", "type": "quantitative", "scale": {"domain": [0, 0.3], "nice": false, "zero": false, "padding": 0}, "axis": null},
"y2": {"field": "y2"}
}
}
]
},
{
"width": 982, "height": 182,
"title": {"text": "Li DOS of Li", "anchor": "middle", "frame": "group", "dx": -9.7, "offset": -57, "font": "Lato", "fontSize": 32, "fontWeight": 400, "color": "#595959"},
"resolve": {"axis": {"x": "independent", "y": "independent"}},
"layer": [
{
"data": {"values": [{"x": -0.3, "y": 0.10}, {"x": -0.1, "y": 0.13}, {"x": 0.0, "y": 0.15}, {"x": 0.1, "y": 0.168}, {"x": 0.2, "y": 0.182}, {"x": 0.3, "y": 0.190}, {"x": 0.44, "y": 0.194}, {"x": 0.55, "y": 0.192}, {"x": 0.7, "y": 0.183}, {"x": 0.85, "y": 0.168}, {"x": 1.0, "y": 0.150}, {"x": 1.2, "y": 0.125}]},
"mark": {"type": "line", "color": "#C0504D", "strokeWidth": 3.5, "interpolate": "monotone"},
"encoding": {
"x": {"field": "x", "type": "quantitative", "scale": {"domain": [-8, 4], "nice": false, "zero": false, "padding": 0},
 "axis": {"orient": "bottom", "values": [-8, -7, -6, -5, -4, -3, -2, -1, 0, 1, 2, 3], "labels": false, "ticks": false, "domain": false, "grid": true, "gridColor": "#D9D9D9", "gridWidth": 2.5, "title": null}},
"y": {"field": "y", "type": "quantitative", "scale": {"domain": [0.1, 0.2], "nice": false, "zero": false, "padding": 0},
 "axis": {"orient": "left", "values": [0.2], "format": "~g", "labelFont": "Lato", "labelFontSize": 23, "labelColor": "#595959", "labelPadding": 24, "labelFlush": false, "labelOverlap": false, "ticks": false, "domain": false, "grid": true, "gridColor": "#D9D9D9", "gridWidth": 2.5, "offset": -654.67, "title": null}}
}
},
{
"data": {"values": [{"x": 0, "x2": 4, "y": 0.1, "y2": 0.2088}]},
"mark": {"type": "rect", "color": "#BFBFBF", "opacity": 0.73},
"encoding": {
"x": {"field": "x", "type": "quantitative", "scale": {"domain": [-8, 4], "nice": false, "zero": false, "padding": 0}, "axis": null},
"x2": {"field": "x2"},
"y": {"field": "y", "type": "quantitative", "scale": {"domain": [0.1, 0.2], "nice": false, "zero": false, "padding": 0}, "axis": null},
"y2": {"field": "y2"}
}
},
{
"data": {"values": [{"x": -0.72}, {"x": 0}]},
"mark": {"type": "bar", "color": "#00B050", "width": 3},
"encoding": {
"x": {"field": "x", "type": "quantitative", "scale": {"domain": [-8, 4], "nice": false, "zero": false, "padding": 0}, "axis": null},
"y": {"datum": 0.25055, "type": "quantitative", "scale": {"domain": [0.1, 0.2], "nice": false, "zero": false, "padding": 0}, "axis": null},
"y2": {"datum": 0.1}
}
}
]
}
]
}
]
}
]
}
